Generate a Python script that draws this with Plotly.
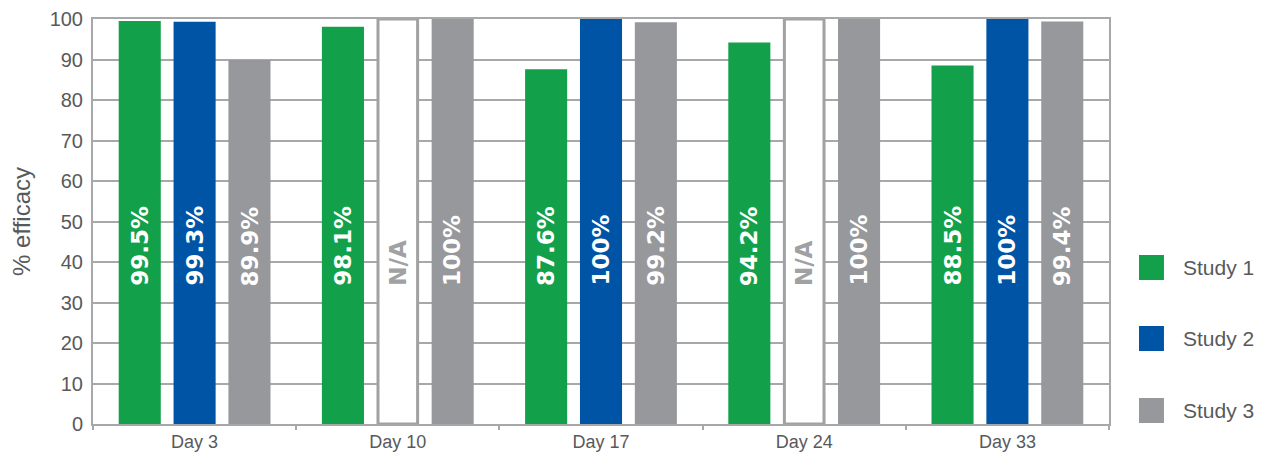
import plotly.graph_objects as go

# Efficacy by study and day
days = ["Day 3", "Day 10", "Day 17", "Day 24", "Day 33"]
study_1 = [99.5, 98.1, 87.6, 94.2, 88.5]
study_2 = [99.3, None, 100, None, 100]   # None = not available
study_3 = [89.9, 100, 99.2, 100, 99.4]
series_names = ["Study 1", "Study 2", "Study 3"]
y_ticks = [0, 10, 20, 30, 40, 50, 60, 70, 80, 90, 100]

GREEN = "#12A14A"
BLUE = "#0054A5"
GREY = "#97989B"
LINE_GREY = "#A7A8AA"
TEXT_GREY = "#58595B"
NA_GREY = "#A0A1A3"

BAR_W = 0.207
SLOT = 0.27
FONT = "Liberation Sans, Arial, sans-serif"
LABEL_FONT = "DejaVu Sans, Liberation Sans, sans-serif"

fig = go.Figure()

series = [(study_1, GREEN, -SLOT), (study_2, BLUE, 0.0), (study_3, GREY, SLOT)]
for name, (vals, color, shift) in zip(series_names, series):
    fig.add_trace(go.Bar(
        x=days, y=vals, name=name, width=BAR_W, offset=shift - BAR_W / 2,
        marker=dict(color=color, line=dict(width=0)), showlegend=False,
    ))

# Outline placeholder where Study 2 has no value
na_y = [100 if v is None else None for v in study_2]
fig.add_trace(go.Bar(
    x=days, y=na_y, width=BAR_W - 0.012, offset=-(BAR_W - 0.012) / 2,
    marker=dict(color="white", line=dict(color=NA_GREY, width=3)),
    showlegend=False, hoverinfo="skip",
))

# Rotated value labels inside bars
for idx in range(len(days)):
    for vals, shift in ((study_1, -SLOT), (study_2, 0.0), (study_3, SLOT)):
        v = vals[idx]
        txt = "N/A" if v is None else f"{v:g}%"
        fig.add_annotation(
            x=idx + shift, y=33.6, xref="x", yref="y", text=f"<b>{txt}</b>",
            textangle=-90, showarrow=False, xanchor="center", yanchor="bottom",
            font=dict(family=LABEL_FONT, size=23,
                      color=NA_GREY if v is None else "white"),
        )

# Legend drawn as swatches and labels at the right
legend_rows = [(GREEN, 0.3556, 0.4173), (BLUE, 0.1802, 0.2420), (GREY, 0.0025, 0.0642)]
for name, (color, y0, y1) in zip(series_names, legend_rows):
    fig.add_shape(type="rect", xref="paper", yref="paper",
                  x0=1.0295, x1=1.0541, y0=y0, y1=y1,
                  fillcolor=color, line=dict(width=0))
    fig.add_annotation(x=1.0709, y=(y0 + y1) / 2, xref="paper", yref="paper",
                       text=name, showarrow=False, xanchor="left", yanchor="middle",
                       font=dict(family=FONT, size=21, color=TEXT_GREY))

fig.update_layout(
    width=1266, height=456,
    margin=dict(l=93, r=157, t=19, b=32),
    paper_bgcolor="white", plot_bgcolor="white",
    barmode="overlay",
    showlegend=False,
    font=dict(family=FONT, color=TEXT_GREY),
)
fig.update_xaxes(
    type="category", range=[-0.5, 4.5], automargin=False,
    showline=True, linecolor=LINE_GREY, linewidth=2, mirror=True,
    ticks="outside", tickson="boundaries", ticklen=4, tickcolor=LINE_GREY, tickwidth=2,
    showgrid=False, tickfont=dict(family=FONT, size=18, color=TEXT_GREY),
)
fig.update_yaxes(
    range=[0, 100], tickvals=y_ticks, automargin=False,
    showline=True, linecolor=LINE_GREY, linewidth=2, mirror=True,
    showgrid=True, gridcolor=LINE_GREY, gridwidth=2,
    zeroline=False, ticks="", ticklabelstandoff=4,
    tickfont=dict(family=FONT, size=20, color=TEXT_GREY),
    title=dict(text="% efficacy", standoff=12,
               font=dict(family=FONT, size=24, color=TEXT_GREY)),
)

fig.write_html("out.html")
